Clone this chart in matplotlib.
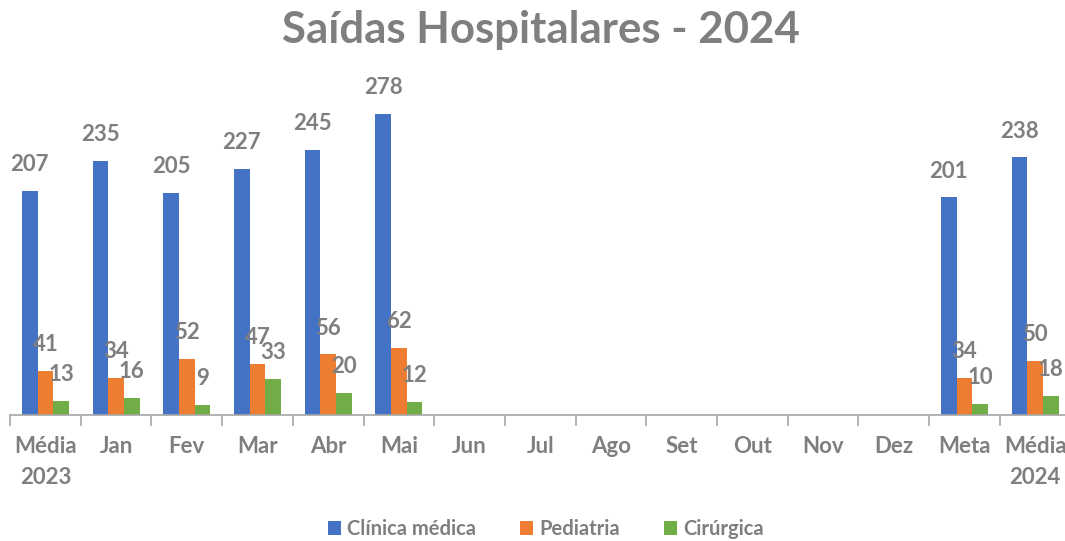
import numpy as np
import matplotlib
matplotlib.use("Agg")
import matplotlib.pyplot as plt
from matplotlib.patches import Patch

categories = ["Média\n2023", "Jan", "Fev", "Mar", "Abr", "Mai", "Jun", "Jul",
              "Ago", "Set", "Out", "Nov", "Dez", "Meta", "Média\n2024"]
nan = np.nan
clinica = [207, 235, 205, 227, 245, 278, nan, nan, nan, nan, nan, nan, nan, 201, 238]
pediatria = [41, 34, 52, 47, 56, 62, nan, nan, nan, nan, nan, nan, nan, 34, 50]
cirurgica = [13, 16, 9, 33, 20, 12, nan, nan, nan, nan, nan, nan, nan, 10, 18]
series_names = ["Clínica médica", "Pediatria", "Cirúrgica"]
colors = ["#4472C4", "#ED7D31", "#70AD47"]

plt.rcParams['font.family'] = ['Lato', 'DejaVu Sans']
gray = "#7F7F7F"

W, H = 1065, 541
fig = plt.figure(figsize=(W/100, H/100), dpi=100)
ax = fig.add_axes([10/W, (H-415)/H, 1060.5/W, (415-60)/H])

n = len(categories)
x = np.arange(n)
bw = 15.7/70.7
for i, (vals, c) in enumerate(zip([clinica, pediatria, cirurgica], colors)):
    xs = x + (i-1)*bw
    v = np.array(vals, dtype=float)
    ax.bar(xs, np.nan_to_num(v), width=bw, color=c, linewidth=0)
    for xi, vi in zip(xs, v):
        if not np.isnan(vi):
            ax.annotate(f"{int(vi)}", (xi, vi), xytext=(0, 19), textcoords="offset points",
                        ha="center", va="center", fontsize=16, fontweight="bold", color=gray)

ax.set_xlim(-0.5, n-0.5)
ax.set_ylim(0, 328)
ax.set_yticks([])
for s in ["top", "right", "left"]:
    ax.spines[s].set_visible(False)
ax.spines["bottom"].set_color("#A6A6A6")
ax.spines["bottom"].set_linewidth(1.2)
ax.set_xticks(x)
ax.set_xticklabels(categories, fontsize=16, fontweight="bold", color=gray, linespacing=1.6)
ax.tick_params(axis="x", which="major", length=0, pad=15)
ax.set_xticks(np.arange(-0.5, n, 1), minor=True)
ax.tick_params(axis="x", which="minor", length=8, color="#A6A6A6", width=1.2)

fig.text(541/W, 1-30/H, "Saídas Hospitalares - 2024", ha="center", va="center",
         fontsize=31.5, fontweight="bold", color=gray)

handles = [Patch(facecolor=c, edgecolor="none") for c in colors]
leg = fig.legend(handles, series_names, loc="center", bbox_to_anchor=(546/W, 1-529/H), ncol=3,
                 frameon=False, fontsize=14.5, handlelength=0.65, handleheight=0.65,
                 handletextpad=0.3, columnspacing=2.2, labelcolor=gray)
for t in leg.get_texts():
    t.set_fontweight("bold")

fig.savefig("out.png", dpi=100)
